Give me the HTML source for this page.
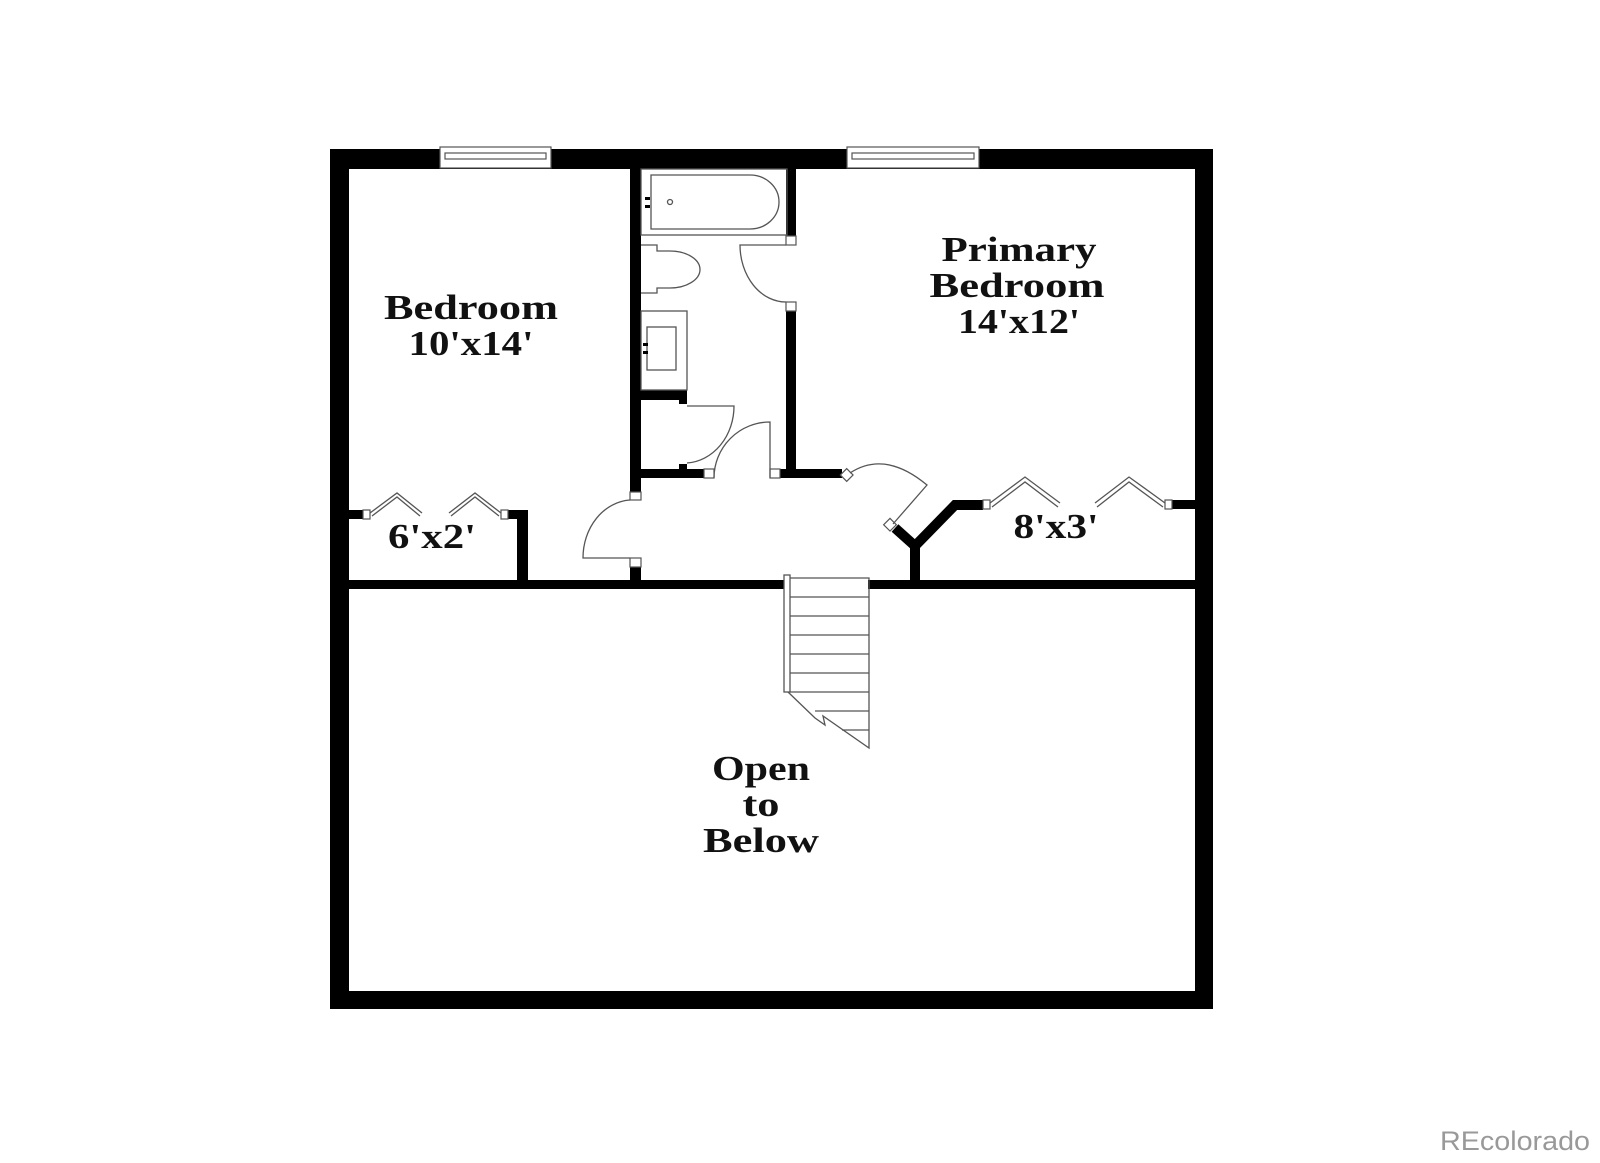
<!DOCTYPE html>
<html><head><meta charset="utf-8"><style>
html,body{margin:0;padding:0;background:#fff;}
svg{display:block;}
text{font-family:"Liberation Serif",serif;font-weight:bold;fill:#111;text-anchor:middle;}
</style></head><body>
<svg width="1600" height="1163" viewBox="0 0 1600 1163" xmlns="http://www.w3.org/2000/svg">
<rect width="1600" height="1163" fill="#fff"/>
<!-- outer walls -->
<rect x="330" y="149" width="883" height="20" fill="#000"/>
<rect x="330" y="149" width="19" height="860" fill="#000"/>
<rect x="1195" y="149" width="18" height="860" fill="#000"/>
<rect x="330" y="991" width="883" height="18" fill="#000"/>
<!-- windows -->
<g fill="#fff" stroke="#555" stroke-width="1.2">
<rect x="440" y="147" width="111" height="21"/>
<rect x="445" y="153" width="101" height="6"/>
<rect x="847" y="147" width="132" height="21"/>
<rect x="852" y="153" width="122" height="6"/>
</g>
<!-- middle horizontal wall -->
<rect x="349" y="580" width="440" height="9" fill="#000"/>
<rect x="868" y="580" width="327" height="9" fill="#000"/>
<!-- bath left wall -->
<rect x="630" y="169" width="11" height="323" fill="#000"/>
<rect x="630" y="567" width="11" height="13" fill="#000"/>
<!-- bath right wall -->
<rect x="786" y="169" width="10" height="67" fill="#000"/>
<rect x="786" y="311" width="10" height="167" fill="#000"/>
<!-- hall top walls -->
<rect x="641" y="469" width="63" height="9" fill="#000"/>
<rect x="679" y="464" width="8" height="6" fill="#000"/>
<rect x="780" y="469" width="62" height="9" fill="#000"/>
<!-- linen wall -->
<rect x="641" y="390" width="46" height="10" fill="#000"/>
<rect x="679" y="390" width="8" height="14" fill="#000"/>
<!-- bedroom closet -->
<rect x="349" y="510" width="14" height="9" fill="#000"/>
<rect x="508" y="510" width="20" height="9" fill="#000"/>
<rect x="517" y="510" width="11" height="70" fill="#000"/>
<!-- primary closet walls -->
<polyline points="895,528 915,546 955,505 983,505" fill="none" stroke="#000" stroke-width="10"/>
<rect x="910" y="545" width="10" height="36" fill="#000"/>
<rect x="1172" y="500" width="23" height="9" fill="#000"/>
<!-- jambs -->
<g fill="#fff" stroke="#555" stroke-width="1.2">
<rect x="630" y="492" width="11" height="8"/>
<rect x="630" y="558" width="11" height="9"/>
<rect x="786" y="236" width="10" height="9"/>
<rect x="786" y="302" width="10" height="9"/>
<rect x="704" y="469" width="10" height="9"/>
<rect x="770" y="469" width="10" height="9"/>
<rect x="363" y="510" width="7" height="9"/>
<rect x="501" y="510" width="7" height="9"/>
<rect x="983" y="500" width="7" height="9"/>
<rect x="1165" y="500" width="7" height="9"/>
<rect x="842" y="470" width="9" height="9" transform="rotate(45 846 475)"/>
<rect x="886" y="520" width="9" height="9" transform="rotate(45 890 524)"/>
</g>
<!-- doors -->
<g fill="none" stroke="#555" stroke-width="1.3">
<path d="M630,558 L583,558 A50,58 0 0 1 630,500"/>
<path d="M786,245 L740,245 A46,57 0 0 0 786,302"/>
<path d="M770,478 L770,422 A56,56 0 0 0 714,478"/>
<path d="M687,406 L734,406 A50,57 0 0 1 687,463"/>
<path d="M850,473 Q885,450 927,485 L893,524"/>
<!-- bifolds -->
<path d="M370,513 L397,493 L422,513 M372,516 L397,497 L420,516"/>
<path d="M449,513 L475,493 L501,513 M451,516 L475,497 L499,516"/>
<path d="M990,503 L1025,477 L1060,503 M992,507 L1025,482 L1058,507"/>
<path d="M1095,503 L1129,477 L1165,503 M1097,507 L1129,482 L1163,507"/>
<!-- tub -->
<rect x="641" y="169" width="146" height="66"/>
<path d="M651,175 L750,175 A29,27 0 0 1 750,229 L651,229 Z"/>
<circle cx="670" cy="202" r="2.5"/>
<!-- toilet -->
<path d="M641,245 L657,245 L657,251 L670,251 A30,18.5 0 0 1 670,288 L657,288 L657,293 L641,293"/>
<!-- sink -->
<rect x="641" y="311" width="46" height="79"/>
<rect x="647" y="327" width="29" height="43"/>
<!-- stairs -->
<rect x="784" y="575" width="6" height="117" fill="#fff"/>
<path d="M790,578 L869,578 L869,748 L823,716 L825,725 L815,718 L788,692"/>
<path d="M790,597H869 M790,616H869 M790,635H869 M790,654H869 M790,673H869 M790,692H869 M815,711H869 M842,730H869"/>
</g>
<g fill="#000"><rect x="645" y="197" width="5" height="3"/><rect x="645" y="205" width="5" height="3"/><rect x="643" y="343" width="5" height="3"/><rect x="643" y="351" width="5" height="3"/></g>
<!-- labels -->
<g font-size="35" lengthAdjust="spacingAndGlyphs">
<text x="471" y="319" textLength="174" lengthAdjust="spacingAndGlyphs">Bedroom</text>
<text x="471" y="355" textLength="125" lengthAdjust="spacingAndGlyphs">10'x14'</text>
<text x="432" y="548" textLength="88" lengthAdjust="spacingAndGlyphs">6'x2'</text>
<text x="1019" y="261" textLength="155" lengthAdjust="spacingAndGlyphs">Primary</text>
<text x="1017" y="297" textLength="175" lengthAdjust="spacingAndGlyphs">Bedroom</text>
<text x="1019" y="333" textLength="122" lengthAdjust="spacingAndGlyphs">14'x12'</text>
<text x="1056" y="538" textLength="85" lengthAdjust="spacingAndGlyphs">8'x3'</text>
<text x="761" y="780" textLength="98" lengthAdjust="spacingAndGlyphs">Open</text>
<text x="761" y="816" textLength="37" lengthAdjust="spacingAndGlyphs">to</text>
<text x="761" y="852" textLength="116" lengthAdjust="spacingAndGlyphs">Below</text>
</g>
<text x="1590" y="1150" textLength="150" lengthAdjust="spacingAndGlyphs" style="font-family:'Liberation Sans',sans-serif;font-weight:normal;fill:#999;text-anchor:end" font-size="27">REcolorado</text>
</svg>
</body></html>
